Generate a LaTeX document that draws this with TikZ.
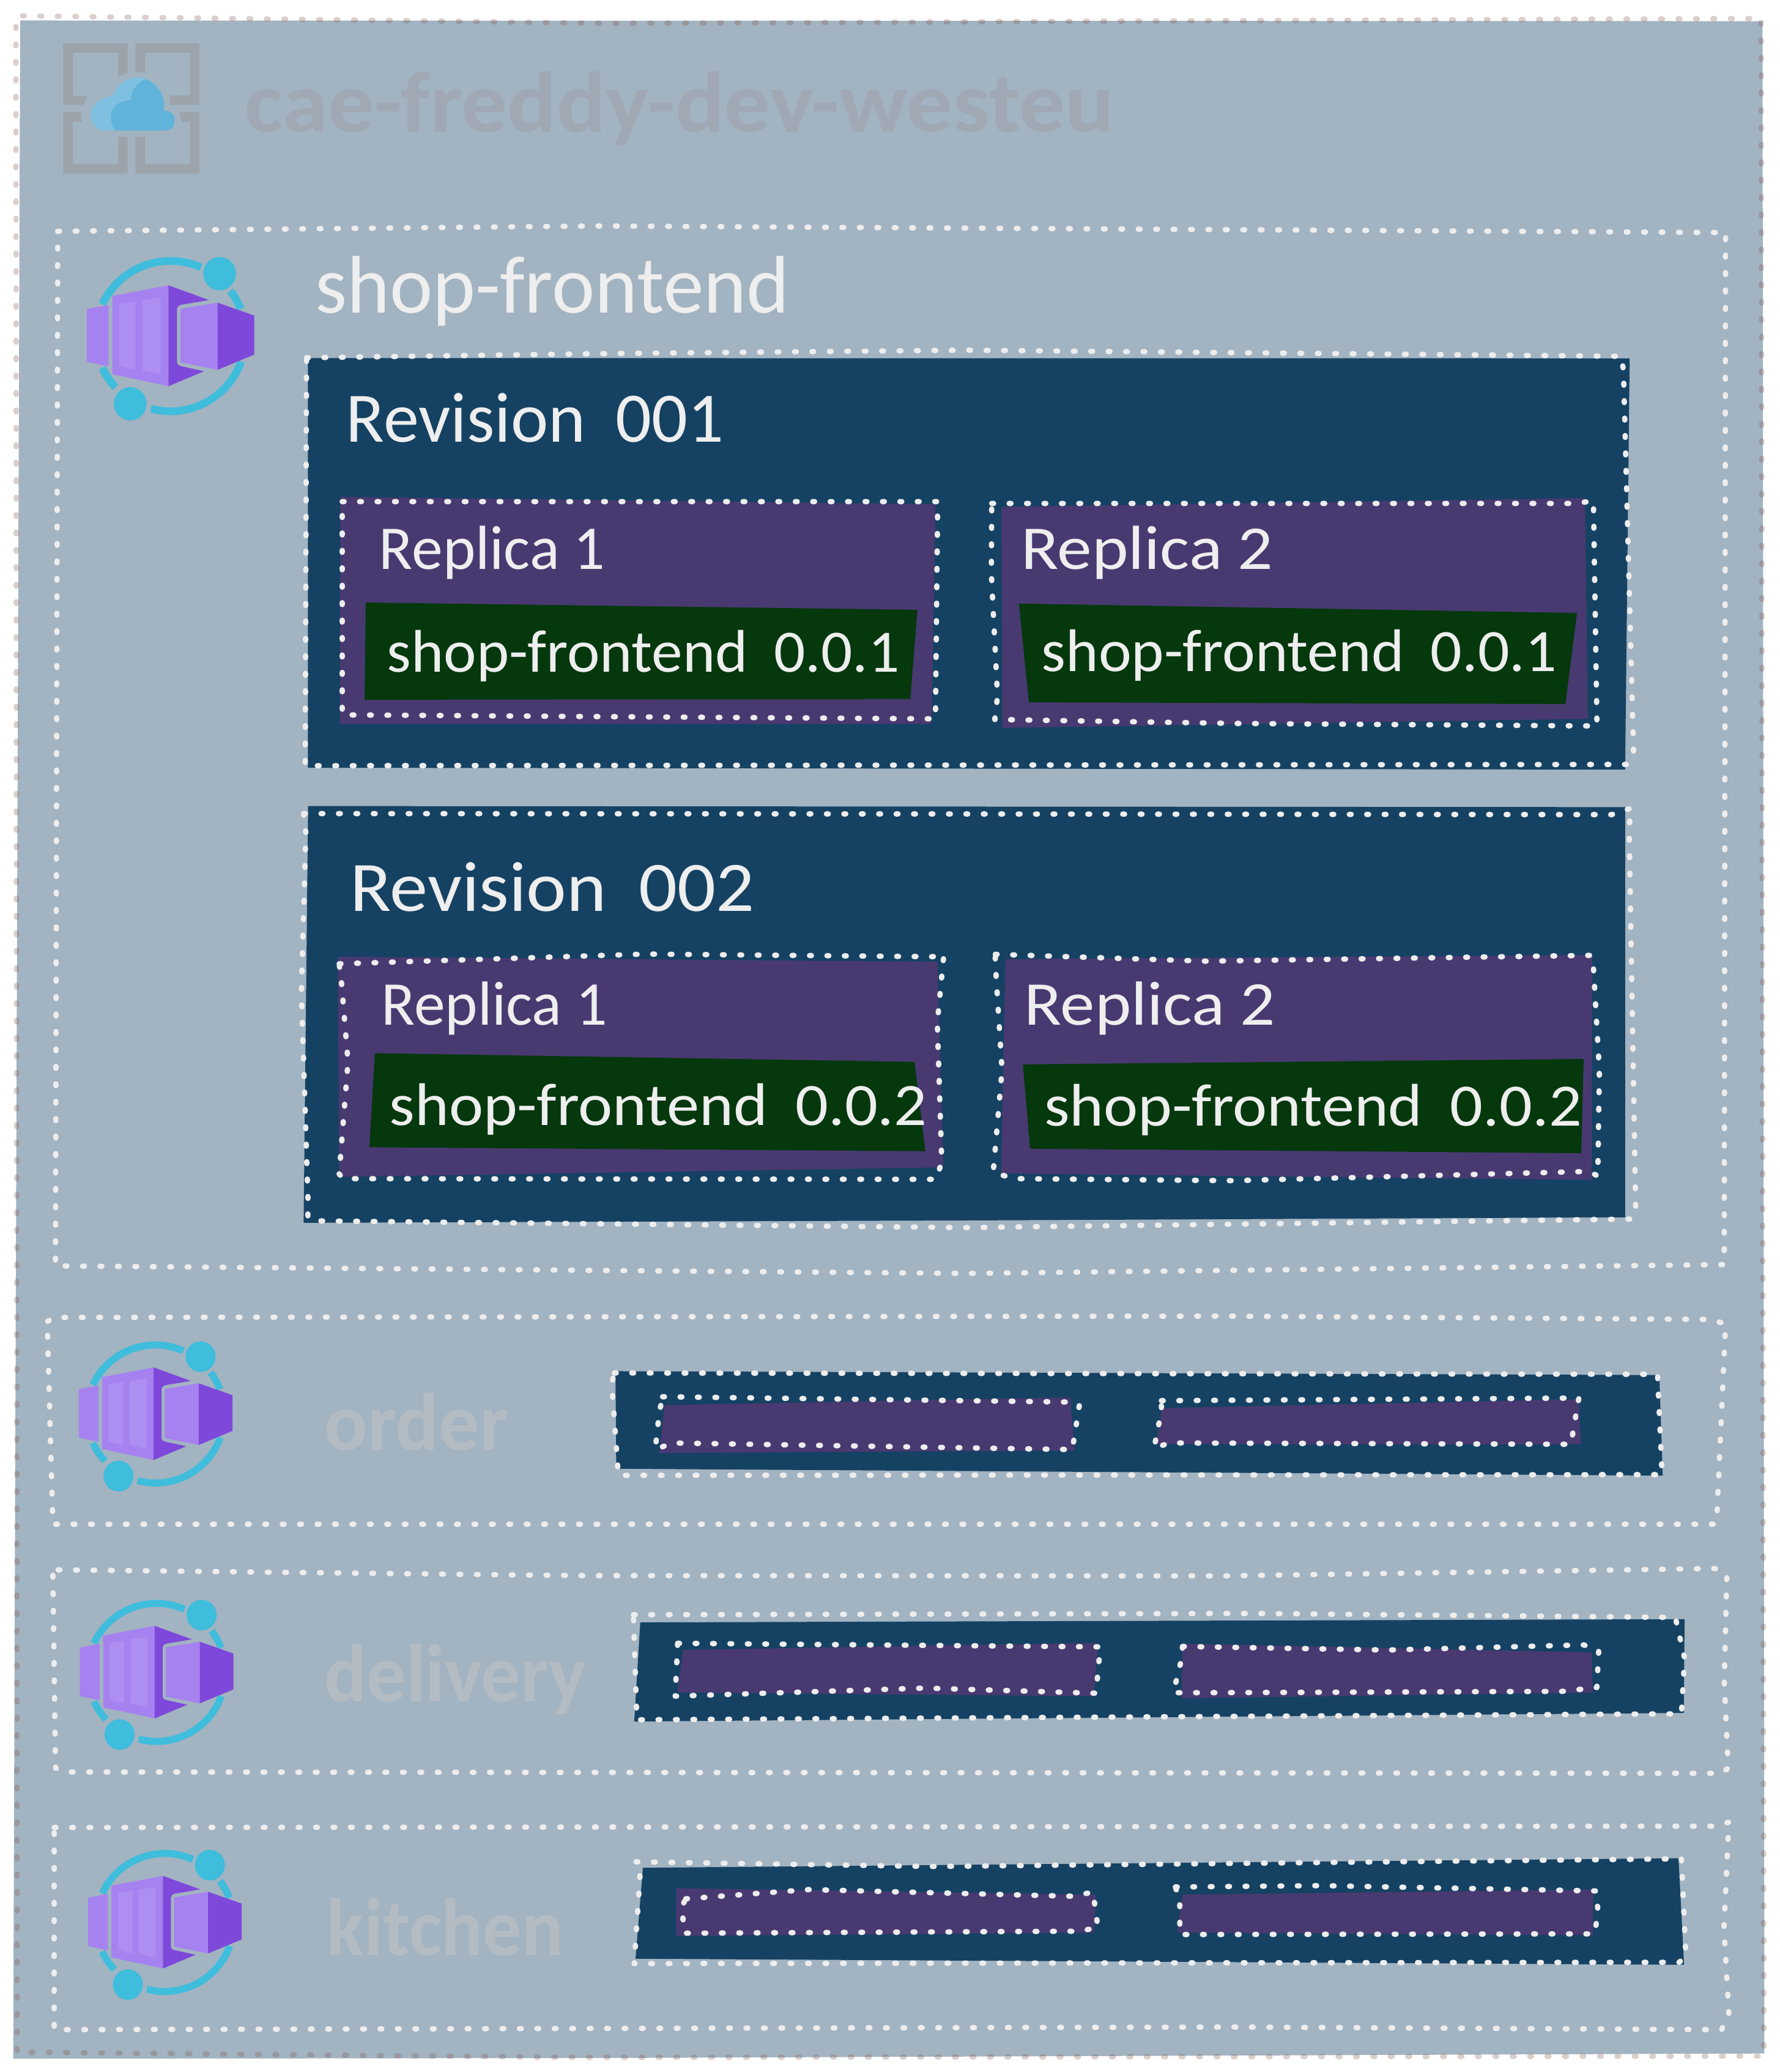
\documentclass[tikz,border=0pt]{standalone}
\usepackage{fontspec}
\setmainfont{Carlito}
\definecolor{bgslate}{HTML}{A2B3C1}
\definecolor{revblue}{HTML}{154263}
\definecolor{reppurple}{HTML}{493971}
\definecolor{ctrgreen}{HTML}{05380D}
\definecolor{inkwhite}{HTML}{EEEEEE}
\definecolor{envfade}{HTML}{A0A8B4}
\definecolor{appfade}{HTML}{B4BCC3}
\definecolor{outerdot}{RGB}{125,81,66}
\definecolor{framegrey}{HTML}{9CA3AA}
\definecolor{cloudlight}{HTML}{7FC0E0}
\definecolor{clouddark}{HTML}{60B3DB}
\definecolor{ringcyan}{HTML}{3FBDDC}
\definecolor{boxlight}{HTML}{A682F0}
\definecolor{boxstrip}{HTML}{AD8EF1}
\definecolor{boxdark}{HTML}{7E48DB}
\tikzset{
 dotline/.style={draw=white!93!black,line width=0.088cm,line cap=round,line join=round,dash pattern=on 0.03cm off 0.255cm},
 outerdots/.style={dotline,draw=outerdot,draw opacity=0.27},
 revfill/.style={fill=revblue},
 repfill/.style={fill=reppurple},
 ctrfill/.style={fill=ctrgreen},
 handtext/.style={anchor=base west,inner sep=0pt,outer sep=0pt,text=inkwhite},
 ringarc/.style={draw=ringcyan},
}
\newcommand{\handlabel}[7]{\node[handtext,text=#4] (#1) at (#2,#3) {\resizebox{\dimexpr 0.0216cm*#5\relax}{\height}{\fontsize{#6}{#6}\selectfont #7}};}
\newcommand{\appicon}[3]{%
\begin{scope}[xshift=#1*0.01cm,yshift=-#2*0.01cm,scale=#3,x=0.0063776cm,y=-0.0047847cm]
 \begin{scope}[shift={(437,1147)},x=0.01cm,y=0.01cm,ringarc/.append style={line width=#3*0.125cm}]
  \draw[ringarc] (155:123) arc[start angle=155,end angle=66,radius=123];
  \draw[ringarc] (37:123) arc[start angle=37,end angle=21,radius=123];
  \draw[ringarc] (-20:123) arc[start angle=-20,end angle=-105,radius=123];
  \draw[ringarc] (-155:123) arc[start angle=-155,end angle=-137,radius=123];
 \end{scope}
 \fill[ringcyan] (563,934) ellipse[x radius=42,y radius=57];
 \fill[ringcyan] (334,1378) ellipse[x radius=42,y radius=57];
 \fill[boxlight] (223,1055) -- (278,1041) -- (278,1250) -- (223,1235) -- cycle;
 \fill[boxlight] (288,1010) -- (432,974) -- (432,1318) -- (288,1277) -- cycle;
 \fill[boxstrip] (306,1038) -- (347,1029) -- (347,1262) -- (306,1250) -- cycle;
 \fill[boxstrip] (365,1025) -- (412,1014) -- (412,1277) -- (365,1263) -- cycle;
 \fill[boxdark] (432,974) -- (536,1024) -- (465,1040) .. controls (458,1042) and (454,1048) .. (454,1055) -- (454,1235) .. controls (454,1243) and (458,1248) .. (465,1250) -- (523,1267) -- (432,1318) -- cycle;
 \fill[boxlight] (463,1054) -- (558,1033) -- (558,1262) -- (463,1237) -- cycle;
 \fill[boxdark] (558,1033) -- (652,1077) -- (652,1210) -- (558,1262) -- cycle;
\end{scope}}
\begin{document}
\begin{tikzpicture}[x=0.0216cm,y=-0.0216cm]
\useasboundingbox (0,0) rectangle (1347.22,1568.06);
\fill[white] (0,0) rectangle (1347.22,1568.06);
% environment
\fill[bgslate] (15.3,15.5) -- (1334,16) -- (1335.4,1554) -- (433,1557.5) -- (10,1558) -- cycle;
\draw[outerdots] (17,12) -- (463,17.6) -- (1333,14) -- (1335,1556) -- (433,1557) -- (13,1553) -- (12,13);
% env icon
\begin{scope}[x=0.0063776cm,y=-0.0047847cm]
 \fill[framegrey] (162,148) -- (327,148) -- (327,248) -- (303,262) -- (303,180) -- (187,180) -- (187,327) -- (225,327) -- (213,358) -- (162,358) -- cycle;
 \fill[framegrey] (347,148) -- (511,148) -- (511,358) -- (437,358) -- (435,326) -- (487,326) -- (487,180) -- (372,180) -- (372,248) -- (347,245) -- cycle;
 \fill[framegrey] (162,383) -- (207,383) -- (210,415) -- (187,415) -- (187,560) -- (303,560) -- (303,467) -- (327,467) -- (327,592) -- (162,592) -- cycle;
 \fill[framegrey] (347,467) -- (372,467) -- (372,560) -- (487,560) -- (487,415) -- (465,415) -- (460,383) -- (511,383) -- (511,592) -- (347,592) -- cycle;
 \fill[cloudlight] (260,445) .. controls (222,430) and (215,345) .. (290,325) .. controls (300,285) and (330,265) .. (350,265) .. controls (400,265) and (425,320) .. (420,378) .. controls (440,378) and (450,395) .. (447,415) .. controls (447,432) and (440,445) .. (425,445) -- cycle;
 \fill[clouddark] (296,445) .. controls (275,410) and (278,345) .. (335,342) .. controls (335,310) and (350,285) .. (372,270) .. controls (405,285) and (425,330) .. (420,378) .. controls (440,378) and (450,395) .. (447,415) .. controls (447,432) and (440,445) .. (425,445) -- cycle;
\end{scope}
\handlabel{envname}{185.4}{100}{envfade}{658}{40pt}{\bfseries cae-freddy-dev-westeu}
% shop-frontend app
\draw[dotline] (43.7,175) -- (453,171) -- (1306,176) -- (1305,957) -- (731.5,963.7) -- (42,958) -- cycle;
\appicon{0}{0}{1}
\handlabel{appshop}{238.6}{236.7}{inkwhite}{359}{38pt}{shop-frontend}
% revision 1
\fill[revfill] (233,271) -- (1233.4,271.2) -- (1230,582.4) -- (233,581) -- cycle;
\draw[dotline] (232,270.7) -- (455,267.6) -- (731.5,265) -- (1227,269.6) -- (1228.7,280) -- (1236.4,570) -- (1231,578.5) -- (231,579.5) -- cycle;
\handlabel{rev1}{262}{334.5}{inkwhite}{286}{33pt}{Revision\hspace{.2em} 001}
\fill[repfill] (257.6,376) -- (708,381.6) -- (705,548) -- (257.4,548) -- cycle;
\draw[dotline] (259,379.6) -- (709.7,379.6) -- (708,544) -- (259,541) -- cycle;
\handlabel{r1a}{287}{430.7}{inkwhite}{171}{29pt}{Replica 1}
\fill[ctrfill] (276.8,456) -- (694.4,461.5) -- (689,529) -- (276,529.6) -- cycle;
\handlabel{c1a}{293}{508.5}{inkwhite}{388}{28pt}{shop-frontend\hspace{.2em} 0.0.1}
\fill[repfill] (758,383.6) -- (1199.6,377) -- (1201.7,544) -- (758.6,550.8) -- cycle;
\draw[dotline] (750.6,381) -- (1192.6,381) -- (1206,379) -- (1208.7,549.4) -- (936.7,547.5) -- (752.9,544.5) -- (755,527) -- (750.3,434) -- cycle;
\handlabel{r1b}{772.7}{431}{inkwhite}{191}{29pt}{Replica 2}
\fill[ctrfill] (771.2,456.8) -- (1193.6,463.9) -- (1184.8,532.8) -- (778.7,531.5) -- cycle;
\handlabel{c1b}{788.4}{507.9}{inkwhite}{390}{28pt}{shop-frontend\hspace{.2em} 0.0.1}
% revision 2
\fill[revfill] (233.2,610) -- (1230,610.8) -- (1230,921.2) -- (731.5,923.6) -- (229.8,925.4) -- cycle;
\draw[dotline] (229.8,615.7) -- (729.6,616) -- (1219.7,616.5) -- (1234.8,611.5) -- (1233,625.5) -- (1238,916) -- (1234.7,922.6) -- (731.5,929) -- (243,924) -- (233,921.8) -- (233.1,908) -- (228.1,750.5) -- (231.5,630.5) -- cycle;
\handlabel{rev2}{265}{689.5}{inkwhite}{306}{33pt}{Revision\hspace{.2em} 002}
\fill[repfill] (255.7,724) -- (709.5,727.9) -- (713.8,883.4) -- (256.7,890.6) -- cycle;
\draw[dotline] (256.7,729.4) -- (489,722) -- (706,724) -- (714.4,722) -- (709.4,774) -- (712.8,879.3) -- (708.5,892.5) -- (260,892) -- (256.7,888.5) -- (263.4,803.7) -- (258.4,743) -- cycle;
\handlabel{r2a}{288.7}{775.5}{inkwhite}{171}{29pt}{Replica 1}
\fill[ctrfill] (283.7,797) -- (692.2,803.6) -- (700.4,871.2) -- (279.6,868.2) -- cycle;
\handlabel{c2a}{294.8}{851.6}{inkwhite}{407}{28pt}{shop-frontend\hspace{.2em} 0.0.2}
\fill[repfill] (761,725.9) -- (1205,722.8) -- (1204.7,892.9) -- (757.7,888) -- cycle;
\draw[dotline] (753.3,722.2) -- (913,727.4) -- (1204.4,723) -- (1206,731.7) -- (1210.5,810) -- (1209.3,890) -- (1202.8,886.5) -- (933.4,893.5) -- (768.5,892) -- (751.7,887.5) -- (758.4,809.7) -- (753.3,729) -- cycle;
\handlabel{r2b}{775.2}{775.5}{inkwhite}{190}{29pt}{Replica 2}
\fill[ctrfill] (774.2,805.5) -- (1198.6,801.4) -- (1196.8,872.7) -- (779.6,869.3) -- cycle;
\handlabel{c2b}{790.4}{852.2}{inkwhite}{407}{28pt}{shop-frontend\hspace{.2em} 0.0.2}
% order
\draw[dotline] (36,1000) -- (41,997) -- (926,996) -- (1295,998.5) -- (1306,1002) -- (1299.4,1149) -- (1298,1153.5) -- (40,1153.5) -- (36,1010);
\appicon{-1.64}{1808.6}{0.918}
\handlabel{apporder}{245.7}{1097.6}{appfade}{139}{38pt}{\bfseries order}
\fill[revfill] (465.8,1037.7) -- (1255.9,1040.6) -- (1258.4,1116.7) -- (466.4,1111.5) -- cycle;
\draw[dotline] (465,1039) -- (1254.5,1040) -- (1258,1116) -- (468,1116.5) -- (463,1047) -- cycle;
\fill[repfill] (503,1063.4) -- (810,1057.5) -- (813.3,1097.6) -- (499,1099.6) -- cycle;
\draw[dotline] (501.5,1057) -- (807,1061) -- (817,1063) -- (811.6,1097) -- (508.8,1092) -- (495.9,1097) -- (499,1069) -- cycle;
\fill[repfill] (879.7,1065.6) -- (1195,1059) -- (1196.5,1093) -- (875,1092.9) -- cycle;
\draw[dotline] (879,1060) -- (1195,1058) -- (1192,1075) -- (1189,1093) -- (885,1092) -- (873.4,1096) -- (879,1068) -- cycle;
% delivery
\draw[dotline] (44,1188) -- (440,1192.4) -- (926,1192.6) -- (1298,1187) -- (1307,1192) -- (1305,1272) -- (1308,1338) -- (1303,1342) -- (50,1341) -- (42,1338) -- (40,1190) -- cycle;
\appicon{0.06}{2231.4}{0.918}
\handlabel{appdelivery}{245.7}{1287.5}{appfade}{198}{38pt}{\bfseries delivery}
\fill[revfill] (484.6,1227.8) -- (1275,1225.4) -- (1274.4,1296.3) -- (480,1302.8) -- cycle;
\draw[dotline] (479.4,1222) -- (949,1221) -- (1268,1224) -- (1275,1255) -- (1272.6,1297) -- (482,1301.5) -- cycle;
\fill[repfill] (517,1248.6) -- (831,1243.3) -- (827.8,1283.6) -- (512.6,1280.8) -- cycle;
\draw[dotline] (512.9,1243.6) -- (832.8,1246.3) -- (829.5,1281.4) -- (700,1277.5) -- (511,1283.6) -- cycle;
\fill[repfill] (895,1243.9) -- (1204.6,1250.5) -- (1205.4,1280.9) -- (894.4,1285.2) -- cycle;
\draw[dotline] (895,1246) -- (1050,1248.7) -- (1198.6,1244.8) -- (1210,1249) -- (1208.6,1277) -- (1182.6,1280) -- (905,1281) -- (888,1281) -- (894.4,1255) -- cycle;
% kitchen
\draw[dotline] (41,1383) -- (1297,1382) -- (1308.5,1379) -- (1304.8,1459) -- (1308.5,1524) -- (1303,1536) -- (934,1534) -- (41,1536) -- cycle;
\appicon{13.6}{2640.5}{0.918}
\handlabel{appkitchen}{247.6}{1480}{appfade}{179}{38pt}{\bfseries kitchen}
\fill[revfill] (486.6,1413.5) -- (1270.4,1406.3) -- (1274.6,1486.9) -- (481,1482.3) -- cycle;
\draw[dotline] (481.4,1409) -- (706,1412.5) -- (1272.6,1406.7) -- (1276,1480) -- (1271,1485) -- (480,1486) -- (484.5,1418) -- cycle;
\fill[repfill] (511.9,1429) -- (829.5,1433.9) -- (827.8,1462.5) -- (511.9,1465) -- cycle;
\draw[dotline] (519,1437) -- (612,1430) -- (810,1435) -- (827.3,1432) -- (831,1459) -- (815,1461.5) -- (518,1463) -- (516,1443) -- cycle;
\fill[repfill] (895,1433.9) -- (1206,1430) -- (1205.4,1464.5) -- (891,1462.5) -- cycle;
\draw[dotline] (889.6,1428) -- (1000,1427) -- (1207.6,1431) -- (1209.5,1446) -- (1207,1463.5) -- (893,1464) -- (892.9,1438) -- cycle;
\end{tikzpicture}
\end{document}
